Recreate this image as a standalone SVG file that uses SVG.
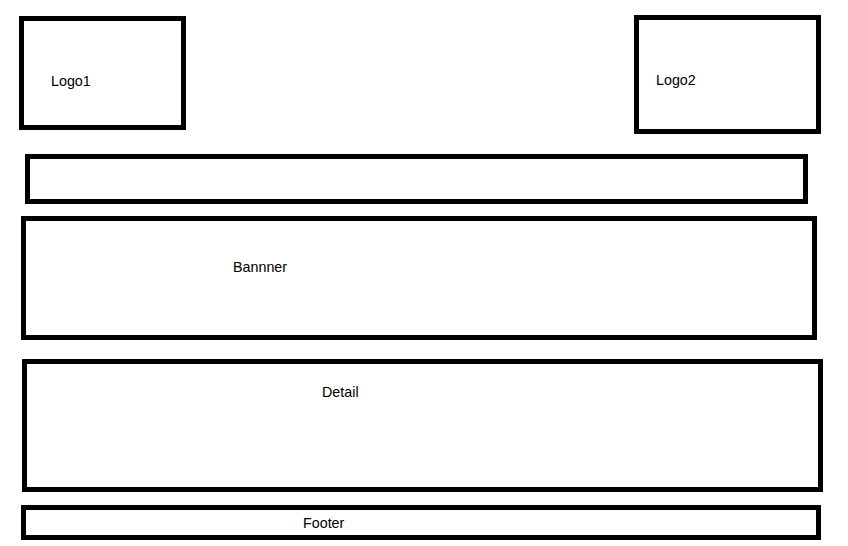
<svg xmlns="http://www.w3.org/2000/svg" width="848" height="546" viewBox="0 0 848 546">
<style>
.box{fill:none;stroke:#000;stroke-width:5}
.lbl{font-family:"Liberation Sans",Arial,sans-serif;font-size:14.3px;fill:#000}
</style>
<rect width="848" height="546" fill="#fff"/>
<g id="logo1"><rect class="box" x="21.5" y="18.5" width="162" height="109"/><text class="lbl" x="51" y="86">Logo1</text></g>
<g id="logo2"><rect class="box" x="636.5" y="17.5" width="182" height="114"/><text class="lbl" x="656" y="85">Logo2</text></g>
<g id="nav"><rect class="box" x="27.5" y="156.5" width="778" height="45"/></g>
<g id="banner"><rect class="box" x="23.5" y="218.5" width="791" height="119"/><text class="lbl" x="233" y="272">Bannner</text></g>
<g id="detail"><rect class="box" x="24.5" y="361.5" width="796" height="128"/><text class="lbl" x="322" y="397">Detail</text></g>
<g id="footer"><rect class="box" x="23.5" y="507.5" width="795" height="30"/><text class="lbl" x="303" y="528">Footer</text></g>
<g id="connectors"/>
</svg>
